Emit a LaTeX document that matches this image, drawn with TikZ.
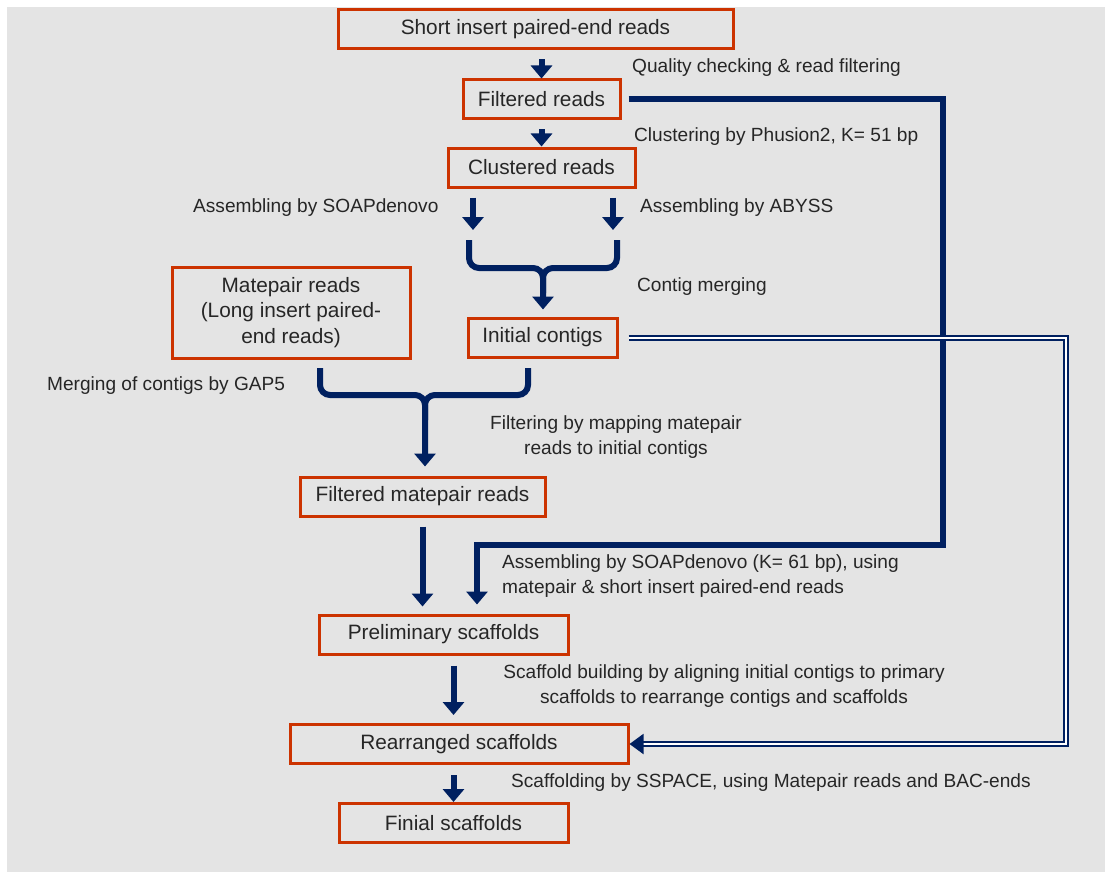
\documentclass[tikz,border=0pt]{standalone}
\usepackage{fontspec}
\setmainfont{Liberation Sans}
\usetikzlibrary{arrows.meta}
\definecolor{boxred}{RGB}{204,51,0}
\definecolor{navy}{RGB}{0,32,96}
\definecolor{paper}{RGB}{228,228,228}
\pgfdeclarelayer{background}
\pgfsetlayers{background,main}

\begin{document}
\begin{tikzpicture} [
                x=1pt, y=-1pt,
                every node/.style={font=\fontsize{19.1}{24.5}\selectfont, text=black!85},
                stage/.style={draw=boxred,line width=3pt,minimum height=39pt,inner sep=0pt,align=center,
                    font=\fontsize{20.8}{25.5}\selectfont},
                note/.style={inner sep=0pt},
                arrow/.style={draw=navy,line width=6pt,-{Triangle[width=21pt,length=13pt]}},
                brace/.style={draw=navy,line width=6pt,rounded corners=10pt},
                twin/.style={draw=navy,line width=2pt,double=white,double distance=2pt,-{Triangle[width=20pt,length=14pt]}},
            ]
            \useasboundingbox (0,0) rectangle (1105,872);
            \foreach \pos/\name/\w/\txt in {
                    {(535.5,29.5)/sr/395/Short insert paired-end reads},
                    {(541.5,99.5)/fr/157/Filtered reads},
                    {(541.5,167.5)/cr/187/Clustered reads},
                    {(542.5,337.5)/ic/149/Initial contigs},
                    {(422.5,496.5)/fm/245/Filtered matepair reads},
                    {(443.5,634.5)/ps/249/Preliminary scaffolds},
                    {(459,744)/rs/338/Rearranged scaffolds},
                    {(453.5,823)/fs/229/Finial scaffolds}}
                \node[stage, minimum width=\w pt] (\name) at \pos {\txt};
            \node[stage, minimum width=238pt, minimum height=91pt] (mp) at (291,312.5)
                {Matepair reads\\(Long insert paired-\\end reads)};
            \node[note, anchor=west] (qc) at (632,68) {Quality checking \& read filtering};
            \node[note, anchor=west] (clu) at (634,137) {Clustering by Phusion2, K= 51 bp};
            \node[note, anchor=west] (soaplbl) at (193,208) {Assembling by SOAPdenovo};
            \node[note, anchor=west] (abysslbl) at (640,208) {Assembling by ABYSS};
            \node[note, anchor=west] (merge) at (637,287) {Contig merging};
            \node[note, anchor=west] (gap) at (47,386) {Merging of contigs by GAP5};
            \node[note, align=center] (fmap) at (616,437) {Filtering by mapping matepair\\reads to initial contigs};
            \node[note, anchor=west, align=left] (soaptwo) at (502,576)
                {Assembling by SOAPdenovo (K= 61 bp), using\\matepair \& short insert paired-end reads};
            \node[note, align=center] (build) at (724,686)
                {Scaffold building by aligning initial contigs to primary\\scaffolds to rearrange contigs and scaffolds};
            \node[note, anchor=west] (sspace) at (511,783) {Scaffolding by SSPACE, using Matepair reads and BAC-ends};
            \coordinate (soap) at (473,230);
            \coordinate (abyss) at (613,230);
            \coordinate (ltop) at (469,240);
            \coordinate (rtop) at (617,240);
            \coordinate (knot) at (543,268);
            \coordinate (ltoptwo) at (320,368);
            \coordinate (rtoptwo) at (528,368);
            \coordinate (knottwo) at (425,395);
            \coordinate (bend) at (943,545);
            \coordinate (drop) at (477,545);
            \coordinate (corner) at (1066,744);
            \draw[arrow, shorten <=9pt] (sr.south -| fr.north) -- (fr.north);
            \draw[arrow, shorten <=9pt] (fr.south) -- (cr.north);
            \draw[arrow, shorten <=9pt] (cr.south -| soap) -- (soap);
            \draw[arrow, shorten <=9pt] (cr.south -| abyss) -- (abyss);
            \draw[brace] (rtop) |- (knot) -- ++(0,25);
            \draw[brace, arrow, shorten >=7pt] (ltop) |- (knot) -- (knot |- ic.north);
            \draw[brace] (rtoptwo) |- (knottwo) -- ++(0,25);
            \draw[brace, arrow, shorten >=9pt] (ltoptwo) |- (knottwo) -- (knottwo |- fm.north);
            \draw[arrow, shorten <=9pt, shorten >=7pt] (fm.south) -- (fm.south |- ps.north);
            \draw[arrow, shorten <=7pt, shorten >=9pt] (fr.east) -| (bend) -- (drop) -- (drop |- ps.north);
            \draw[arrow, shorten <=10pt, shorten >=8pt] (ps.south -| fs.north) -- (rs.north -| fs.north);
            \draw[arrow, shorten <=10pt] (rs.south -| fs.north) -- (fs.north);
            \draw[twin, shorten <=10pt] (ic.east) -| (corner) -- (rs.east);
            \begin{pgfonlayer}{background}
                \fill[paper] (7,7) rectangle (1105,872);
            \end{pgfonlayer}
        \end{tikzpicture}
\end{document}
